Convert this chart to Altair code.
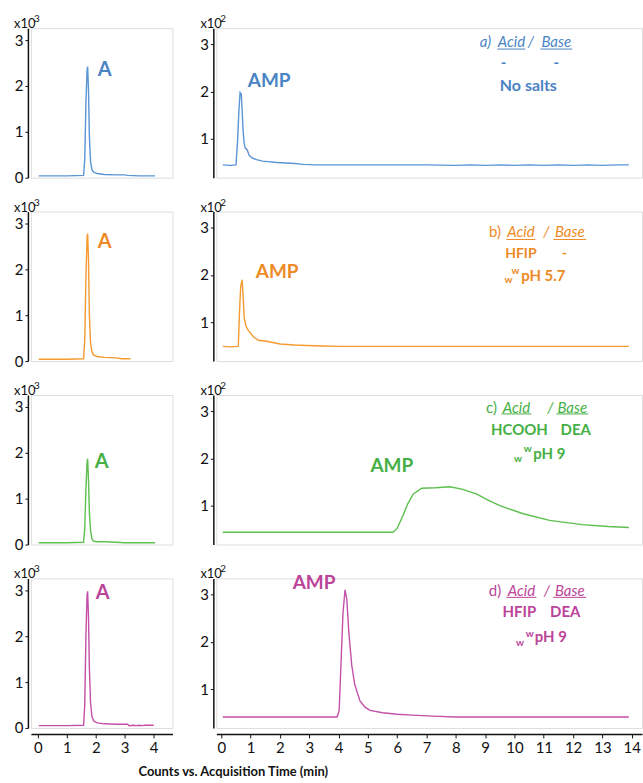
import altair as alt
import pandas as pd

FONT = "Lato"

# ---------------- data (left panels: counts x10^3, right panels: counts x10^2) ----------------
blue_left_t = [0.03, 1.0, 1.58, 1.62, 1.66, 1.70, 1.72, 1.75, 1.78, 1.82, 1.87, 1.93, 2.05, 2.3, 2.7, 3.0, 3.1, 3.5, 4.05]
blue_left_y = [0.04, 0.04, 0.05, 0.4, 1.6, 2.35, 2.42, 1.9, 0.9, 0.35, 0.17, 0.12, 0.09, 0.07, 0.06, 0.06, 0.05, 0.04, 0.04]

orange_left_t = [0.03, 1.0, 1.58, 1.62, 1.66, 1.70, 1.72, 1.75, 1.78, 1.82, 1.87, 1.93, 2.05, 2.3, 2.7, 2.9, 3.2]
orange_left_y = [0.04, 0.04, 0.05, 0.45, 1.8, 2.7, 2.78, 2.2, 1.0, 0.4, 0.2, 0.13, 0.1, 0.08, 0.07, 0.05, 0.05]

green_left_t = [0.03, 1.0, 1.58, 1.62, 1.66, 1.70, 1.72, 1.75, 1.78, 1.82, 1.87, 1.93, 2.05, 2.3, 2.7, 3.0, 3.1, 3.5, 4.05]
green_left_y = [0.04, 0.04, 0.05, 0.35, 1.2, 1.8, 1.87, 1.4, 0.7, 0.3, 0.12, 0.07, 0.06, 0.06, 0.05, 0.04, 0.04, 0.04, 0.04]

magenta_left_t = [0.03, 1.0, 1.58, 1.62, 1.66, 1.70, 1.72, 1.75, 1.78, 1.82, 1.87, 1.93, 2.05, 2.3, 2.7, 3.1, 3.15, 3.3, 3.4, 3.5, 3.6, 3.7, 4.0]
magenta_left_y = [0.05, 0.05, 0.06, 0.5, 2.0, 2.9, 2.98, 2.4, 1.3, 0.55, 0.25, 0.15, 0.11, 0.09, 0.08, 0.08, 0.05, 0.06, 0.05, 0.06, 0.05, 0.06, 0.06]

blue_right_t = [0.05, 0.3, 0.5, 0.55, 0.6, 0.64, 0.68, 0.71, 0.74, 0.78, 0.82, 0.88, 0.95, 1.05, 1.2, 1.4, 1.6, 1.9, 2.2, 2.5, 2.8, 3.2,
                4.0, 5.0, 6.0, 7.0, 8.0, 8.5, 9.0, 9.5, 10.0, 10.5, 11.0, 11.5, 12.0, 12.5, 13.0, 13.5, 13.9]
blue_right_y = [0.45, 0.44, 0.45, 0.9, 1.6, 1.98, 1.95, 1.6, 1.2, 0.9, 0.8, 0.77, 0.65, 0.6, 0.56, 0.53, 0.52, 0.5, 0.49, 0.48, 0.46, 0.45,
                0.45, 0.45, 0.45, 0.45, 0.44, 0.45, 0.44, 0.45, 0.44, 0.45, 0.44, 0.45, 0.44, 0.45, 0.44, 0.45, 0.45]

orange_right_t = [0.05, 0.3, 0.58, 0.62, 0.66, 0.71, 0.74, 0.78, 0.84, 0.92, 1.1, 1.26, 1.55, 2.0, 2.5, 2.9, 3.5, 4.0,
                  5.0, 6.0, 7.0, 8.0, 9.0, 10.0, 11.0, 12.0, 13.0, 13.9]
orange_right_y = [0.49, 0.48, 0.49, 1.2, 1.75, 1.9, 1.6, 1.1, 0.92, 0.83, 0.69, 0.62, 0.6, 0.54, 0.52, 0.51, 0.5, 0.49,
                  0.49, 0.49, 0.49, 0.49, 0.49, 0.49, 0.49, 0.49, 0.49, 0.49]

green_right_t = [0.05, 3.0, 5.85, 6.0, 6.2, 6.36, 6.55, 6.84, 7.3, 7.8, 8.2, 8.7, 9.1, 9.5, 10.3, 11.2, 12.3, 13.2, 13.9]
green_right_y = [0.44, 0.44, 0.44, 0.52, 0.8, 1.04, 1.25, 1.37, 1.38, 1.4, 1.35, 1.25, 1.12, 1.0, 0.83, 0.69, 0.6, 0.56, 0.54]

magenta_right_t = [0.05, 2.0, 3.95, 4.02, 4.08, 4.15, 4.22, 4.28, 4.35, 4.45, 4.55, 4.73, 4.9, 5.07, 5.5, 6.0, 6.5, 7.2, 8.0, 10.0, 12.0, 13.9]
magenta_right_y = [0.41, 0.41, 0.41, 0.55, 1.5, 2.6, 3.1, 2.9, 2.2, 1.5, 1.1, 0.75, 0.62, 0.55, 0.5, 0.47, 0.45, 0.43, 0.41, 0.41, 0.41, 0.41]

left_ticks_x = [0, 1, 2, 3, 4]
right_ticks_x = list(range(0, 15))
left_ticks_y = [0, 1, 2, 3]
right_ticks_y = [1, 2, 3]

line_colors = ["#5A95D6", "#F59A2F", "#5CBF4E", "#C44FA8"]
text_colors = ["#4A84C4", "#EE8A25", "#45B045", "#BB4499"]

# ---------------- layout ----------------
LW, RW, H = 142, 427, 150
LDOM_X = [-0.24, 4.65]
RDOM_X = [-0.17, 14.35]
LDOM_Y = [0, 3.26]
RDOM_Y = [0.18, 3.34]

ONE = pd.DataFrame({"k": [0]})


def txt(s, x, y, color, size=15, bold=False, italic=False, align="center", baseline="middle"):
    kw = dict(text=s, color=color, fontSize=size, font=FONT, align=align, baseline=baseline)
    if bold:
        kw["fontWeight"] = "bold"
    if italic:
        kw["fontStyle"] = "italic"
    return alt.Chart(ONE).mark_text(**kw).encode(x=alt.value(x), y=alt.value(y))


def uline(x1, x2, y, color):
    return alt.Chart(ONE).mark_rule(color=color, strokeWidth=1).encode(
        x=alt.value(x1), x2=alt.value(x2), y=alt.value(y))


def axis_common():
    return dict(grid=False, title=None, domainColor="#111", tickColor="#111", domainWidth=1.5,
                tickWidth=1, labelFontSize=15, labelFont=FONT, labelColor="#111", format="d")


def panel(t, v, color, xdom, ydom, xticks, yticks, bottom):
    df = pd.DataFrame({"t": t, "v": v})
    if bottom:
        xax = alt.Axis(values=xticks, offset=6, tickSize=4, labelPadding=3, **axis_common())
    else:
        xax = None
    yax = alt.Axis(values=yticks, offset=3, tickSize=3, labelPadding=2, **axis_common())
    return alt.Chart(df).mark_line(color=color, strokeWidth=1.4).encode(
        x=alt.X("t:Q", scale=alt.Scale(domain=xdom, nice=False, zero=False), axis=xax),
        y=alt.Y("v:Q", scale=alt.Scale(domain=ydom, nice=False, zero=False), axis=yax),
    )


def exponent_label(x, power):
    return [txt("x10", x, 0, "#111", size=13, align="left", baseline="alphabetic"),
            txt(power, x + 20, -6, "#111", size=10, align="left", baseline="alphabetic")]


lefts = [(blue_left_t, blue_left_y), (orange_left_t, orange_left_y),
         (green_left_t, green_left_y), (magenta_left_t, magenta_left_y)]
rights = [(blue_right_t, blue_right_y), (orange_right_t, orange_right_y),
          (green_right_t, green_right_y), (magenta_right_t, magenta_right_y)]

a_pos = [(74, 42), (74, 31), (71, 67), (72, 15)]
amp_pos = [(53, 53), (61, 61), (176, 71), (98, 5)]


def legend_layers(i, c):
    L = []
    if i == 0:
        L += [txt("a)", 270, 14, c, italic=True), txt("Acid", 296, 14, c, italic=True),
              txt("/", 315.5, 14, c, italic=True), txt("Base", 341, 14, c, italic=True),
              uline(282, 310, 21, c), uline(325, 357, 21, c),
              txt("-", 288, 35, c, bold=True), txt("-", 341, 35, c, bold=True),
              txt("No salts", 313, 58, c, size=16, bold=True)]
    elif i == 1:
        L += [txt("b)", 279.5, 21, c), txt("Acid", 305.5, 21, c, italic=True),
              txt("/", 331, 21, c, italic=True), txt("Base", 354.5, 21, c, italic=True),
              uline(291, 320, 28, c), uline(338, 371, 28, c),
              txt("HFIP", 305.5, 43, c, size=14, bold=True), txt("-", 349, 43, c, size=14, bold=True),
              txt("w", 293, 69, c, size=10, bold=True), txt("w", 300, 60, c, size=10, bold=True),
              txt("pH 5.7", 328, 65, c, size=15, bold=True)]
    elif i == 2:
        L += [txt("c)", 276, 13, c), txt("Acid", 301, 13, c, italic=True),
              txt("/", 335, 13, c, italic=True), txt("Base", 357, 13, c, italic=True),
              uline(286, 316, 19, c), uline(341, 373, 19, c),
              txt("HCOOH", 304, 35, c, size=15, bold=True), txt("DEA", 360.5, 35, c, size=15, bold=True),
              txt("w", 302.5, 64.5, c, size=10, bold=True), txt("w", 312.5, 54, c, size=10, bold=True),
              txt("pH 9", 334, 59, c, size=15, bold=True)]
    else:
        L += [txt("d)", 279.5, 13, c), txt("Acid", 306, 13, c, italic=True),
              txt("/", 331.5, 13, c, italic=True), txt("Base", 354.5, 13, c, italic=True),
              uline(291, 321, 19, c), uline(338, 371, 19, c),
              txt("HFIP", 304, 34, c, size=15, bold=True), txt("DEA", 350, 34, c, size=15, bold=True),
              txt("w", 304.5, 65, c, size=10, bold=True), txt("w", 314.5, 55.5, c, size=10, bold=True),
              txt("pH 9", 335.5, 59, c, size=15, bold=True)]
    return L


panels = []
for i in range(4):
    bottom = i == 3
    lc, tc = line_colors[i], text_colors[i]
    lt, lv = lefts[i]
    rt, rv = rights[i]
    left_layers = [panel(lt, lv, lc, LDOM_X, LDOM_Y, left_ticks_x, left_ticks_y, bottom),
                   *exponent_label(-17, "3"),
                   txt("A", a_pos[i][0], a_pos[i][1], tc, size=20, bold=True)]
    if bottom:
        left_layers.append(txt("Counts vs. Acquisition Time (min)", 203, 194, "#111", size=13, bold=True))
    right_layers = [panel(rt, rv, lc, RDOM_X, RDOM_Y, right_ticks_x, right_ticks_y, bottom),
                    *exponent_label(-16, "2"),
                    txt("AMP", amp_pos[i][0], amp_pos[i][1], tc, size=19, bold=True)] + legend_layers(i, tc)
    panels.append(alt.layer(*left_layers).properties(width=LW, height=H))
    panels.append(alt.layer(*right_layers).properties(width=RW, height=H))

chart = alt.concat(*panels, columns=2, spacing={"row": 34, "column": 44}, bounds="flush").properties(
    padding={"left": 13, "top": 12, "right": 0, "bottom": 0}
).configure_view(stroke=None).configure(background="white")

chart.save("out.html", embed_options={"renderer": "svg", "actions": False})
